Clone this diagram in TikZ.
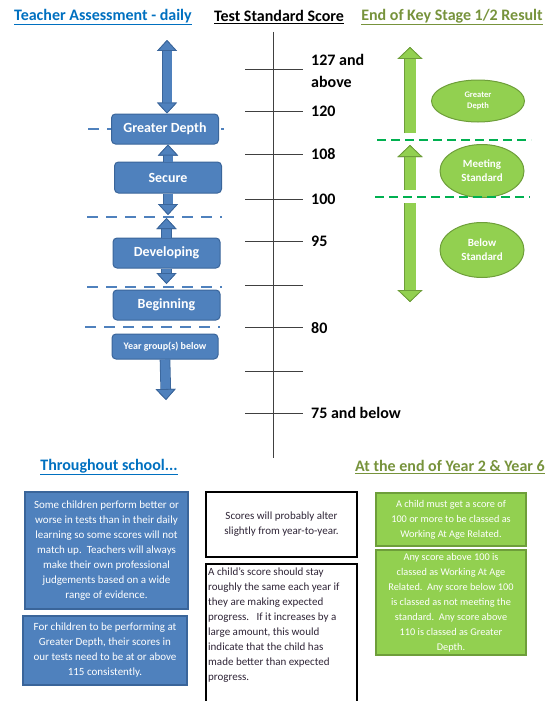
\documentclass[tikz,border=0pt]{standalone}
\usepackage{fontspec}
\setmainfont{Carlito}
\usepackage{xcolor}
\usepackage{tikz}
\usetikzlibrary{arrows.meta, positioning, shapes.geometric}

\definecolor{bluefill}{HTML}{4F81BD}
\definecolor{blueline}{HTML}{3A659A}
\definecolor{greenfill}{HTML}{92D050}
\definecolor{greenline}{HTML}{6E9E3A}
\definecolor{dashgreen}{HTML}{00B050}
\definecolor{headblue}{HTML}{0070C0}
\definecolor{headgreen}{HTML}{77933C}
\definecolor{axisgray}{HTML}{404040}
\definecolor{notetext}{HTML}{2E2436}

\tikzset{
    btip/.tip={Triangle[width=20pt, length=11pt, line width=.8pt, fill=bluefill, color=blueline]},
    gtip/.tip={Triangle[width=25pt, length=12pt, line width=.8pt, fill=greenfill, color=greenline]}
}

\begin{document}
\begin{tikzpicture}[x=1pt, y=-1pt,
        head/.style={font=\bfseries\fontsize{16}{18}\selectfont, inner sep=0pt},
        level/.style={rectangle, rounded corners=4pt, draw=blueline, fill=bluefill, line width=1pt, text=white, font=\bfseries\fontsize{14}{16}\selectfont, minimum width=107pt, minimum height=30pt},
        score/.style={anchor=west, font=\bfseries\fontsize{16}{22}\selectfont, inner sep=0pt, align=left},
        tick/.style={draw=axisgray, line width=.8pt},
        bdash/.style={draw=bluefill, line width=2.2pt, dash pattern=on 11pt off 8pt},
        gdash/.style={draw=dashgreen, line width=2.2pt, dash pattern=on 9pt off 5pt},
        barr/.style={draw=bluefill, line width=9pt, preaction={draw=blueline, line width=10.6pt}},
        garr/.style={draw=greenfill, line width=11pt, preaction={draw=greenline, line width=12.6pt}},
        result/.style={ellipse, draw=greenline, fill=greenfill, line width=1pt, text=white, font=\bfseries\fontsize{11}{14}\selectfont, align=center, inner sep=0pt, minimum width=84pt, minimum height=53pt},
        note/.style={rectangle, align=center, inner sep=2pt, font=\fontsize{11}{15}\selectfont},
        bluenote/.style={note, draw=blueline, fill=bluefill, line width=1.5pt, text=white, minimum width=163pt},
        greennote/.style={note, draw=greenline, fill=greenfill, line width=1.5pt, text=white, minimum width=150pt, font=\fontsize{10.3}{15}\selectfont},
        blacknote/.style={note, draw=black, line width=2pt, text=notetext, minimum width=151pt}
    ]
    \useasboundingbox (0,0) rectangle (555,701);

    % headings
    \node[head, text=headblue] (ta) at (103,17) {\underline{Teacher Assessment - daily}};
    \node[head] (tss) at (279,17) {\underline{Test Standard Score}};
    \node[head, text=headgreen] (ks) at (452,17) {\underline{End of Key Stage 1/2 Result}};
    \node[head, text=headblue] (ts) at (109,467) {\underline{Throughout school...}};
    \node[head, text=headgreen] (ey) at (450,467) {\underline{At the end of Year 2 \& Year 6}};

    % score scale
    \coordinate (axtop) at (273,32);
    \coordinate (axbot) at (273,458);
    \draw[tick] (axtop) -- (axbot);
    \foreach \y in {69,111,154,199,241,285,327,371,413}
        \draw[tick] (245,\y) -- (303,\y);
    \node[score] (s127) at (311,71) {127 and\\above};
    \node[score] (s120) at (311,111) {120};
    \node[score] (s108) at (311,154) {108};
    \node[score] (s100) at (311,199) {100};
    \node[score] (s95) at (311,241) {95};
    \node[score] (s80) at (311,328) {80};
    \node[score] (s75) at (311,413) {75 and below};

    % teacher assessment levels
    \draw[bdash] (88,129) -- (224,129);
    \coordinate (d1l) at (87,217);
    \coordinate (d2l) at (87,287);
    \draw[bdash] (d1l) -- (222,217);
    \draw[bdash] (d2l) -- (222,287);
    \draw[bdash] (85,327) -- (220,327);

    \node[level] (gd) at (165,129) {Greater Depth};
    \node[level, minimum height=31pt] (sec) at (168,177.5) {Secure};
    \node[level] (dev) at (166.5,253) {Developing};
    \node[level] (beg) at (166.5,305) {Beginning};
    \node[level, minimum width=106pt, minimum height=25pt, font=\bfseries\fontsize{10}{12}\selectfont] (ygb) at (165,346.5) {Year group(s) below};

    \coordinate (top) at (167,40);
    \coordinate (low) at (166,400);
    \draw[barr, {btip}-{btip}] (top) -- (top |- gd.north);
    \draw[barr, -{btip}] (sec.north) -- (sec.north |- gd.south);
    \draw[barr, -{btip}] (sec.south) -- ([yshift=2pt]sec.south |- d1l);
    \draw[barr, -{btip}] (dev.north) -- ([yshift=-1pt]dev.north |- d1l);
    \draw[barr, -{btip}] (dev.south) -- ([yshift=3pt]dev.south |- d2l);
    \draw[barr, -{btip}] (ygb.south) -- (low);

    % key stage results
    \node[result, minimum width=93pt, minimum height=42pt, font=\bfseries\fontsize{8.5}{11}\selectfont] (gdres) at (478,101) {Greater\\Depth};
    \node[result] (meet) at (482,171) {Meeting\\Standard};
    \node[result, minimum height=55pt] (below) at (482,250) {Below\\Standard};

    \coordinate (g1a) at (410,133);
    \coordinate (g1b) at (410,47);
    \coordinate (g2a) at (410,190);
    \coordinate (g2b) at (410,145);
    \coordinate (g3a) at (410,203);
    \coordinate (g3b) at (410,302);
    \draw[garr, -{gtip}] (g1a) -- (g1b);
    \draw[garr, -{gtip}] (g2a) -- (g2b);
    \draw[garr, -{gtip}] (g3a) -- (g3b);
    \draw[gdash] (377,140) -- (531,140);
    \draw[gdash] (375,197) -- (530,197);

    % notes
    \node[bluenote, minimum height=117pt] (perf) at (106.5,550.5) {Some children perform better or\\worse in tests than in their daily\\learning so some scores will not\\match up.\ \ Teachers will always\\make their own professional\\judgements based on a wide\\range of evidence.};
    \node[bluenote, minimum width=164pt, minimum height=69pt] (depth) at (105,650.5) {For children to be performing at\\Greater Depth, their scores in\\our tests need to be at or above\\115 consistently.};

    \node[blacknote, minimum height=65pt] (alter) at (281.5,524.5) {Scores will probably alter\\slightly from year-to-year.};
    \node[blacknote, minimum height=142pt, anchor=north] (prog) at (281.5,563) {};
    \node[note, align=left, text=notetext, inner sep=0pt, below right=5pt and 3pt of prog.north west, anchor=north west] (progtxt) {A child’s score should stay\\roughly the same each year if\\they are making expected\\progress.\ \ \ If it increases by a\\large amount, this would\\indicate that the child has\\made better than expected\\progress.};

    \node[greennote, minimum height=53pt] (must) at (451,519.5) {A child must get a score of\\100 or more to be classed as\\Working At Age Related.};
    \node[greennote, minimum height=105pt] (any) at (451,602.5) {Any score above 100 is\\classed as Working At Age\\Related.\ \ Any score below 100\\is classed as not meeting the\\standard.\ \ Any score above\\110 is classed as Greater\\Depth.};
\end{tikzpicture}
\end{document}
